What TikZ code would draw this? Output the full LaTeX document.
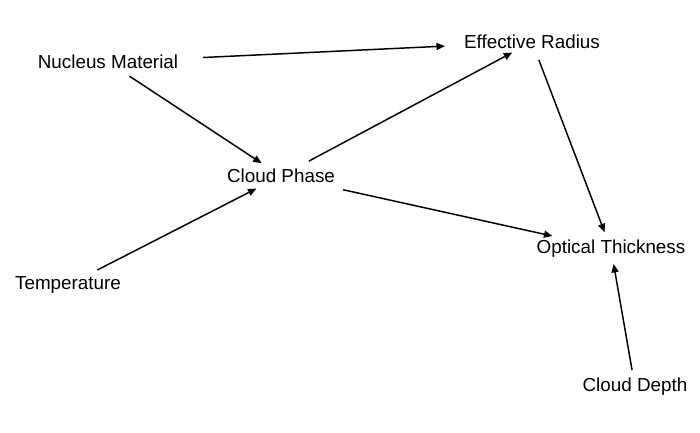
\documentclass[tikz,border=0pt]{standalone}
\usepackage{fontspec}
\setmainfont{Liberation Sans}
\usetikzlibrary{arrows.meta}

\begin{document}
\begin{tikzpicture}[>={Triangle[length=6pt,width=5pt]},
  var/.style={inner sep=2pt, font=\fontsize{13.4}{16}\selectfont},
  link/.style={->, line width=1.05pt}]
  \useasboundingbox (0,0) rectangle (17.5,10.8);
  \node[var] (nm) at (2.7,9.25)    {Nucleus Material};
  \node[var] (er) at (13.3,9.75)   {Effective Radius};
  \node[var] (cp) at (7.025,6.4)   {Cloud Phase};
  \node[var] (ot) at (15.275,4.575) {Optical Thickness};
  \node[var] (tp) at (1.7,3.675)   {Temperature};
  \node[var] (cd) at (15.875,1.125) {Cloud Depth};
  % arrows run centre to centre, cut back to leave the gaps
  \draw[link, shorten <=2.38cm, shorten >=2.18cm] (nm.center) -- (er.center);
  \draw[link, shorten <=0.64cm, shorten >=0.58cm] (nm.center) -- (cp.center);
  \draw[link, shorten <=0.79cm, shorten >=0.56cm] (cp.center) -- (er.center);
  \draw[link, shorten <=1.59cm, shorten >=1.5cm]  (cp.center) -- (ot.center);
  \draw[link, shorten <=0.82cm, shorten >=0.69cm] (tp.center) -- (cp.center);
  \draw[link, shorten <=0.48cm, shorten >=0.45cm] (er.center) -- (ot.center);
  \draw[link, shorten <=0.43cm, shorten >=0.38cm] (cd.center) -- (ot.center);
\end{tikzpicture}
\end{document}
